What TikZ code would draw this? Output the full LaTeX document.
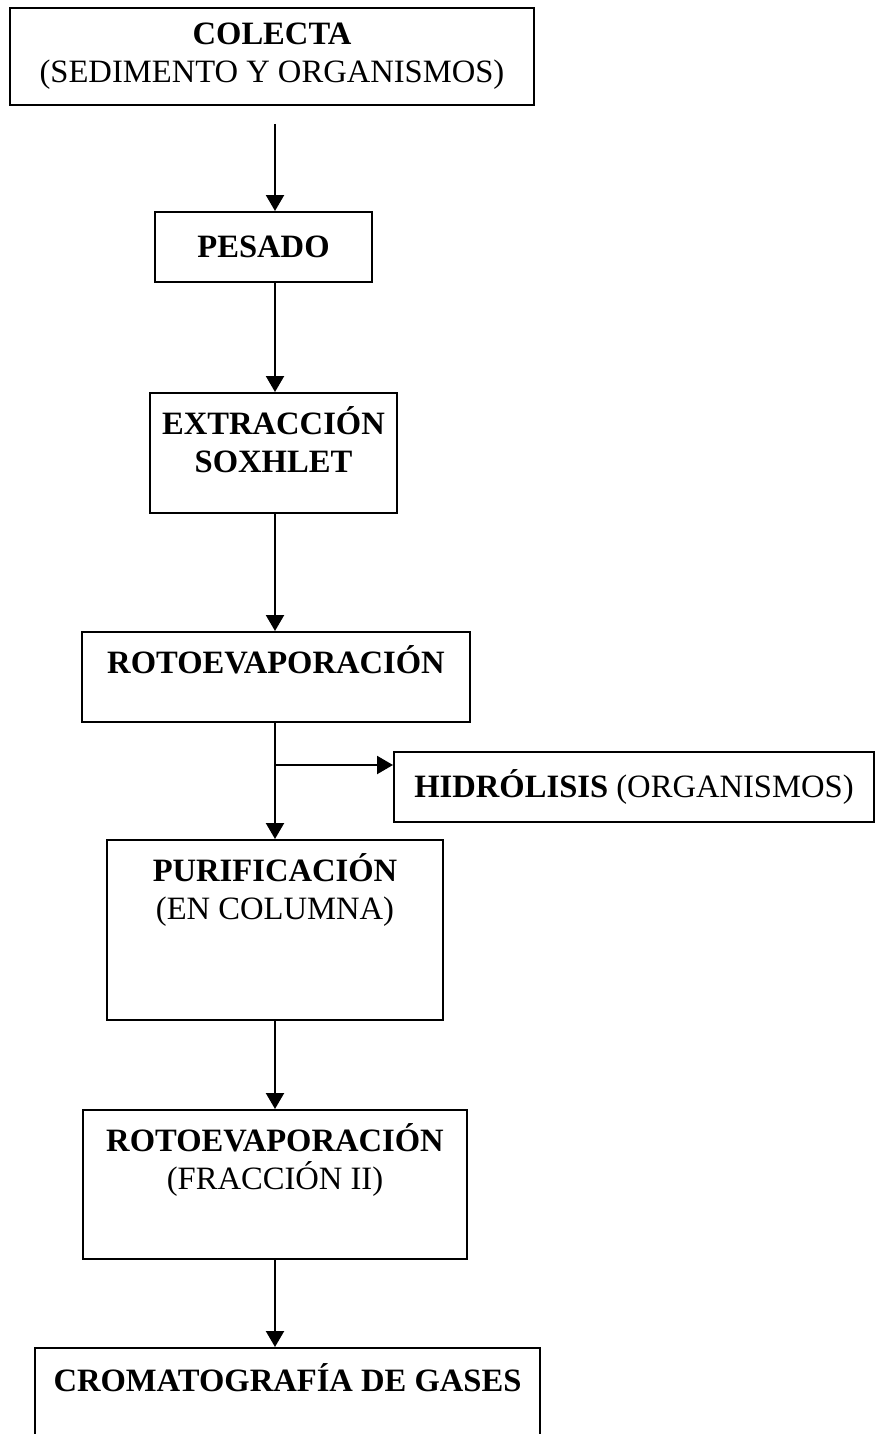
\documentclass[tikz,border=0pt]{standalone}
\usepackage{fontspec}
\setmainfont{Liberation Serif}
\usetikzlibrary{positioning,arrows.meta}

\begin{document}
\begin{tikzpicture}[x=0.5pt, y=-0.5pt,
                    stepbox/.style={draw, line width=1pt, inner sep=0pt, align=center,
                                    font=\fontsize{16.3pt}{19pt}\selectfont},
                    toptext/.style={inner sep=0pt, align=center, text height=12pt,
                                    font=\fontsize{16.3pt}{19pt}\selectfont},
                    twolines/.style={toptext, text height=31pt},
                    flow/.style={line width=1.1pt, -{Triangle[width=9pt,length=8pt]}}]
    \useasboundingbox (0,0) rectangle (875,1434);
    \clip (0,0) rectangle (875,1434);
    \coordinate (spine) at (275,0);

    \node[stepbox, minimum width=262pt, minimum height=48.5pt] (colecta) at (272,56.5)
        {\textbf{COLECTA}\\(SEDIMENTO Y ORGANISMOS)};
    \node[stepbox, minimum width=108.5pt, minimum height=35pt] (pesado) at (263.5,247)
        {\textbf{PESADO}};
    \node[stepbox, minimum width=123.5pt, minimum height=60pt] (extraccion) at (273.5,453) {};
    \node[twolines, below=9pt of extraccion.north] (extraccion-txt)
        {\textbf{EXTRACCIÓN}\\\textbf{SOXHLET}};
    \node[stepbox, minimum width=194pt, minimum height=45pt] (rotoevap) at (276,677) {};
    \node[toptext, below=9pt of rotoevap.north] (rotoevap-txt)
        {\textbf{ROTOEVAPORACIÓN}};
    \node[stepbox, minimum width=240pt, minimum height=35pt] (hidrolisis) at (634,787)
        {\textbf{HIDRÓLISIS} (ORGANISMOS)};
    \node[stepbox, minimum width=168pt, minimum height=90pt] (purificacion) at (275,930) {};
    \node[twolines, below=9pt of purificacion.north] (purificacion-txt)
        {\textbf{PURIFICACIÓN}\\(EN COLUMNA)};
    \node[stepbox, minimum width=192pt, minimum height=74.5pt] (rotoevap2) at (275,1184.5) {};
    \node[twolines, below=9pt of rotoevap2.north] (rotoevap2-txt)
        {\textbf{ROTOEVAPORACIÓN}\\(FRACCIÓN II)};
    \node[stepbox, minimum width=252.5pt, minimum height=66pt] (cromatografia) at (287.5,1414) {};
    \node[toptext, below=10pt of cromatografia.north] (cromatografia-txt)
        {\textbf{CROMATOGRAFÍA DE GASES}};

    \coordinate (ramal) at (275,765);
    \draw[flow, shorten <=9pt] (colecta.south -| spine) -- (pesado.north -| spine);
    \draw[flow] (pesado.south -| spine) -- (extraccion.north -| spine);
    \draw[flow] (extraccion.south -| spine) -- (rotoevap.north -| spine);
    \draw[flow] (rotoevap.south -| spine) -- (purificacion.north -| spine);
    \draw[flow] (ramal) -- (ramal -| hidrolisis.west);
    \draw[flow] (purificacion.south -| spine) -- (rotoevap2.north -| spine);
    \draw[flow] (rotoevap2.south -| spine) -- (cromatografia.north -| spine);
\end{tikzpicture}
\end{document}
